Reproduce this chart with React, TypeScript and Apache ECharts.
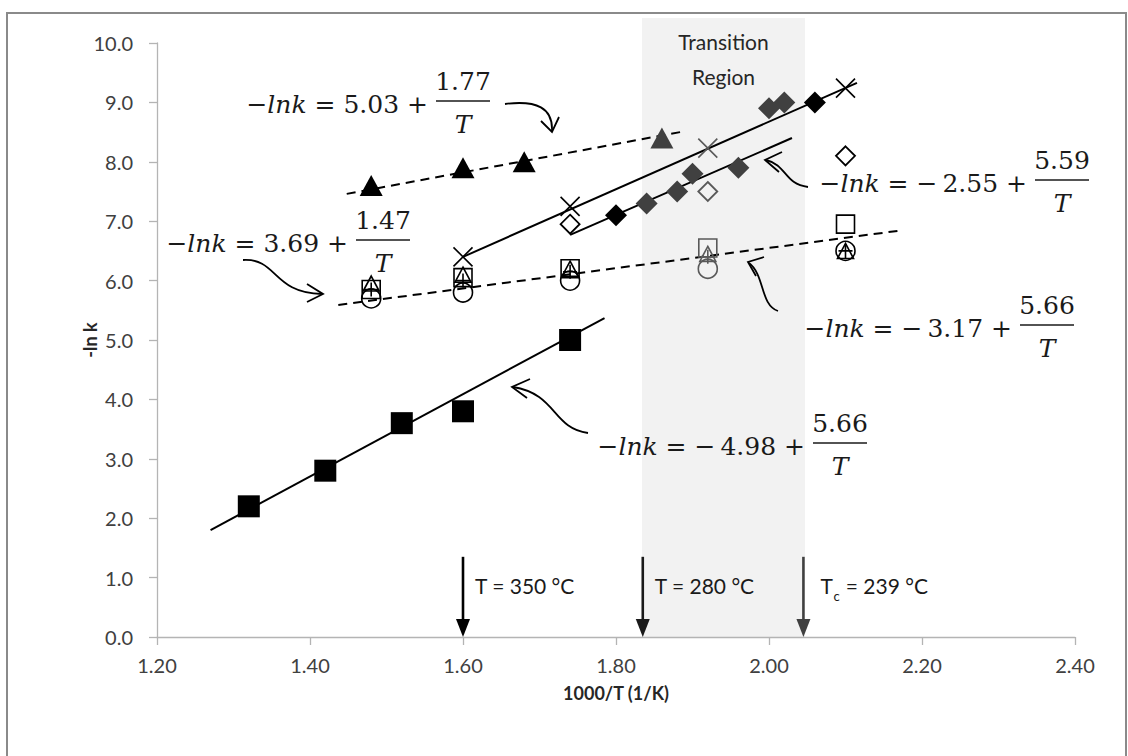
import React, { useEffect, useRef } from "react";
import * as echarts from "echarts";

// ---------- axes ----------
const xMin = 1.2;
const xMax = 2.4;
const xStep = 0.2;
const yMin = 0;
const yMax = 10;
const yStep = 1;
const xTitle = "1000/T (1/K)";
const yTitle = "-ln k";

// ---------- data series ----------
const bigSquareX = [1.32, 1.42, 1.52, 1.6, 1.74];
const bigSquareY = [2.2, 2.8, 3.6, 3.8, 5.0];

const filledTriX = [1.48, 1.6, 1.68, 1.86];
const filledTriY = [7.6, 7.9, 8.0, 8.4];

const crossX = [1.6, 1.74, 1.92, 2.1];
const crossY = [6.4, 7.25, 8.23, 9.24];

const filledDiaX = [1.8, 1.84, 1.88, 1.9, 1.96, 2.0, 2.02, 2.06];
const filledDiaY = [7.1, 7.3, 7.5, 7.8, 7.9, 8.9, 9.0, 9.0];

const openDiaX = [1.74, 1.92, 2.1];
const openDiaY = [6.95, 7.5, 8.1];

const lowX = [1.48, 1.6, 1.74, 1.92, 2.1];
const openSquareY = [5.85, 6.05, 6.2, 6.55, 6.95];
const openTriY = [5.95, 6.1, 6.2, 6.45, 6.5];
const plusY = [5.85, 6.0, 6.15, 6.4, 6.5];
const openCircleY = [5.7, 5.8, 6.0, 6.2, 6.5];

// ---------- fitted lines (end points) ----------
const fitSquareX = [1.27, 1.785];
const fitSquareY = [1.8, 5.37];
const fitTriX = [1.448, 1.888];
const fitTriY = [7.46, 8.51];
const fitCrossX = [1.6, 2.115];
const fitCrossY = [6.4, 9.33];
const fitDiaX = [1.74, 2.03];
const fitDiaY = [6.77, 8.4];
const fitLowX = [1.437, 2.17];
const fitLowY = [5.59, 6.84];

// ---------- annotations ----------
const transitionRange = [1.834, 2.047];
const transitionLabel = ["Transition", "Region"];
const tempArrowX = [1.6, 1.835, 2.045];
const tempArrowTop = 1.35;
const tempLabels = ["T = 350 °C", "T = 280 °C", " = 239 °C"];

const eqConstants = ["5.03", "3.69", "−\u20092.55", "−\u20093.17", "−\u20094.98"];
const eqNumerators = ["1.77", "1.47", "5.59", "5.66", "5.66"];

const inTransition = (x: number) => x >= transitionRange[0] && x <= transitionRange[1];
const zip = (xs: number[], ys: number[]) => xs.map((x, i) => [x, ys[i]]);

const UI_FONT = "Lato, 'Open Sans', sans-serif";
const MATH_FONT = "'DejaVu Serif', serif";
const EQ_SIZE = 25;

export default function App() {
  const ref = useRef<HTMLDivElement>(null);

  useEffect(() => {
    const chart = echarts.init(ref.current!, null, { renderer: "svg" });

    const pts = (xs: number[], ys: number[], fill: (g: boolean) => any) =>
      xs.map((x, i) => ({ value: [x, ys[i]], itemStyle: fill(inTransition(x)) }));

    const filled = (g: boolean) => ({ color: g ? "#404040" : "#000000", opacity: 1 });
    const hollow = (g: boolean) => ({
      color: "rgba(255,255,255,0)",
      borderColor: g ? "#595959" : "#000000",
      borderWidth: 1.6,
      opacity: 1,
    });
    const hollowWhite = (g: boolean) => ({
      color: g ? "#f2f2f2" : "#ffffff",
      borderColor: g ? "#595959" : "#000000",
      borderWidth: 1.8,
      opacity: 1,
    });

    const scatter = (name: string, data: any[], symbol: string, size: any, z = 3) => ({
      type: "scatter",
      name,
      data,
      symbol,
      symbolSize: size,
      itemStyle: { opacity: 1 },
      z,
    });

    const fit = (name: string, xs: number[], ys: number[], dashed: boolean) => ({
      type: "line",
      name,
      data: zip(xs, ys),
      showSymbol: false,
      symbol: "none",
      lineStyle: { color: "#000", width: 2, type: dashed ? [9, 6] : "solid" },
      z: 2,
    });

    const option: any = {
      animation: false,
      backgroundColor: "#ffffff",
      grid: { left: 157, right: 53, top: 43, bottom: 119, containLabel: false },
      xAxis: {
        type: "value",
        min: xMin,
        max: xMax,
        interval: xStep,
        name: xTitle,
        nameLocation: "middle",
        nameGap: 47,
        nameMoveOverlap: false,
        nameTextStyle: { fontFamily: UI_FONT, fontSize: 18, fontWeight: "bold", color: "#262626" },
        axisLine: { show: true, lineStyle: { color: "#b4b4b4", width: 1.3 } },
        axisTick: { show: true, length: 8, lineStyle: { color: "#b4b4b4", width: 1.3 } },
        axisLabel: {
          margin: 18,
          fontFamily: UI_FONT,
          fontSize: 20,
          color: "#404040",
          formatter: (v: number) => v.toFixed(2),
        },
        splitLine: { show: false },
      },
      yAxis: {
        type: "value",
        min: yMin,
        max: yMax,
        interval: yStep,
        name: yTitle,
        nameLocation: "middle",
        nameRotate: 90,
        nameGap: 58,
        nameMoveOverlap: false,
        nameTextStyle: { fontFamily: UI_FONT, fontSize: 18, fontWeight: "bold", color: "#262626" },
        axisLine: { show: true, lineStyle: { color: "#b4b4b4", width: 1.3 } },
        axisTick: { show: true, length: 8, lineStyle: { color: "#b4b4b4", width: 1.3 } },
        axisLabel: {
          margin: 24,
          fontFamily: UI_FONT,
          fontSize: 20,
          color: "#404040",
          formatter: (v: number) => v.toFixed(1),
        },
        splitLine: { show: false },
      },
      series: [
        fit("fit squares", fitSquareX, fitSquareY, false),
        fit("fit triangles", fitTriX, fitTriY, true),
        fit("fit crosses", fitCrossX, fitCrossY, false),
        fit("fit diamonds", fitDiaX, fitDiaY, false),
        fit("fit low", fitLowX, fitLowY, true),
        scatter("squares", pts(bigSquareX, bigSquareY, filled), "rect", 22),
        scatter("triangles", pts(filledTriX, filledTriY, filled), "triangle", [23, 21]),
        scatter("filled diamonds", pts(filledDiaX, filledDiaY, filled), "diamond", [22, 22]),
        scatter("open diamonds", pts(openDiaX, openDiaY, hollowWhite), "diamond", [19, 19]),
        scatter("crosses", pts(crossX, crossY, hollow), "path://M0,0L20,20M20,0L0,20", 19, 4),
        scatter("open circles", pts(lowX, openCircleY, hollow), "circle", 19),
        scatter("open squares", pts(lowX, openSquareY, hollow), "rect", 18),
        scatter("open triangles", pts(lowX, openTriY, hollow), "triangle", [16, 15]),
        scatter("plus", pts(lowX, plusY, hollow), "path://M10,0L10,20M0,10L20,10", 14),
      ],
    };

    chart.setOption(option);

    const px = (x: number, y: number) => chart.convertToPixel({ gridIndex: 0 }, [x, y]) as number[];
    const g: any[] = [];

    // outer frame
    g.push({
      type: "rect",
      shape: { x: 7, y: 13, width: 1119, height: 780 },
      style: { fill: "none", stroke: "#8a8a8a", lineWidth: 2 },
      z: 50,
      silent: true,
    });

    // transition region shading
    const [rx1] = px(transitionRange[0], 0);
    const [rx2, ry0] = px(transitionRange[1], 0);
    g.push({
      type: "rect",
      shape: { x: rx1, y: 18, width: rx2 - rx1, height: ry0 - 18 },
      style: { fill: "#f2f2f2" },
      z: -5,
      silent: true,
    });
    const rcx = (rx1 + rx2) / 2;
    transitionLabel.forEach((t, i) =>
      g.push({
        type: "text",
        x: rcx,
        y: 41 + i * 35,
        style: {
          text: t,
          font: `21px ${UI_FONT}`,
          fill: "#262626",
          textAlign: "center",
          textVerticalAlign: "middle",
          verticalAlign: "middle",
        },
        z: 60,
      })
    );

    // temperature arrows
    const arrowColors = ["#000000", "#1a1a1a", "#404040"];
    tempArrowX.forEach((x, i) => {
      const [ax, ay0] = px(x, 0);
      const [, ayt] = px(x, tempArrowTop);
      const c = arrowColors[i];
      g.push({
        type: "line",
        shape: { x1: ax, y1: ayt, x2: ax, y2: ay0 - 14 },
        style: { stroke: c, lineWidth: 2.6 },
        z: 60,
      });
      g.push({
        type: "polygon",
        shape: { points: [[ax - 7, ay0 - 18], [ax + 7, ay0 - 18], [ax, ay0]] },
        style: { fill: c },
        z: 60,
      });
    });
    const tl = (text: string, x: number, y: number, size = 21) => ({
      type: "text",
      x,
      y,
      style: {
        text,
        font: `${size}px ${UI_FONT}`,
        fill: "#1a1a1a",
        textAlign: "left",
        textVerticalAlign: "middle",
        verticalAlign: "middle",
      },
      z: 60,
    });
    const a0 = px(tempArrowX[0], 0)[0];
    const a1 = px(tempArrowX[1], 0)[0];
    const a2 = px(tempArrowX[2], 0)[0];
    g.push(tl(tempLabels[0], a0 + 12, 585));
    g.push(tl(tempLabels[1], a1 + 12, 585));
    g.push(tl("T", a2 + 17, 585));
    g.push(tl("c", a2 + 30, 596, 13));
    g.push(tl(tempLabels[2], a2 + 37, 585));

    // equations
    const eqPos = [
      [463, 104],
      [383, 243],
      [1062, 183],
      [1047, 328],
      [840, 446],
    ];
    eqPos.forEach(([cx, my], i) => {
      g.push({
        type: "text",
        x: cx - 35,
        y: my,
        style: {
          text: `{n|−}{i|lnk}{n| = ${eqConstants[i]} +}`,
          textAlign: "right",
          textVerticalAlign: "middle",
          verticalAlign: "middle",
          fill: "#1a1a1a",
          rich: {
            n: { fontFamily: MATH_FONT, fontSize: EQ_SIZE, fill: "#1a1a1a" },
            i: { fontFamily: MATH_FONT, fontSize: EQ_SIZE, fontStyle: "italic", fill: "#1a1a1a" },
          },
        },
        z: 60,
      });
      g.push({
        type: "text",
        x: cx,
        y: my - 23,
        style: {
          text: eqNumerators[i],
          font: `${EQ_SIZE}px ${MATH_FONT}`,
          fill: "#1a1a1a",
          textAlign: "center",
          textVerticalAlign: "middle",
          verticalAlign: "middle",
        },
        z: 60,
      });
      g.push({
        type: "line",
        shape: { x1: cx - 27, y1: my - 3, x2: cx + 27, y2: my - 3 },
        style: { stroke: "#1a1a1a", lineWidth: 1.3 },
        z: 60,
      });
      g.push({
        type: "text",
        x: cx,
        y: my + 20,
        style: {
          text: "T",
          font: `italic ${EQ_SIZE}px ${MATH_FONT}`,
          fill: "#1a1a1a",
          textAlign: "center",
          textVerticalAlign: "middle",
          verticalAlign: "middle",
        },
        z: 60,
      });
    });

    // curved pointer arrows
    const curves = [
      { c: [505, 104, 537, 100, 553, 108, 552, 131], h: [[541, 121], [552, 132], [559, 117]] },
      { c: [243, 260, 278, 258, 272, 293, 322, 294], h: [[307, 284], [323, 294], [307, 302]] },
      { c: [808, 187, 784, 184, 787, 165, 766, 160], h: [[782, 152], [765, 160], [779, 172]] },
      { c: [778, 311, 760, 305, 765, 275, 749, 263], h: [[764, 257], [748, 262], [756, 276]] },
      { c: [588, 433, 552, 428, 557, 394, 513, 387], h: [[530, 379], [512, 387], [527, 398]] },
    ];
    curves.forEach(({ c, h }) => {
      g.push({
        type: "bezierCurve",
        shape: { x1: c[0], y1: c[1], cpx1: c[2], cpy1: c[3], cpx2: c[4], cpy2: c[5], x2: c[6], y2: c[7] },
        style: { stroke: "#000", lineWidth: 1.8, fill: "none" },
        z: 60,
      });
      g.push({
        type: "polyline",
        shape: { points: h },
        style: { stroke: "#000", lineWidth: 1.8, fill: "none" },
        z: 60,
      });
    });

    chart.setOption({ graphic: g });

    return () => chart.dispose();
  }, []);

  return (
    <div
      ref={ref}
      style={{ position: "absolute", left: 0, top: 0, width: 1128, height: 756, background: "#ffffff" }}
    />
  );
}
